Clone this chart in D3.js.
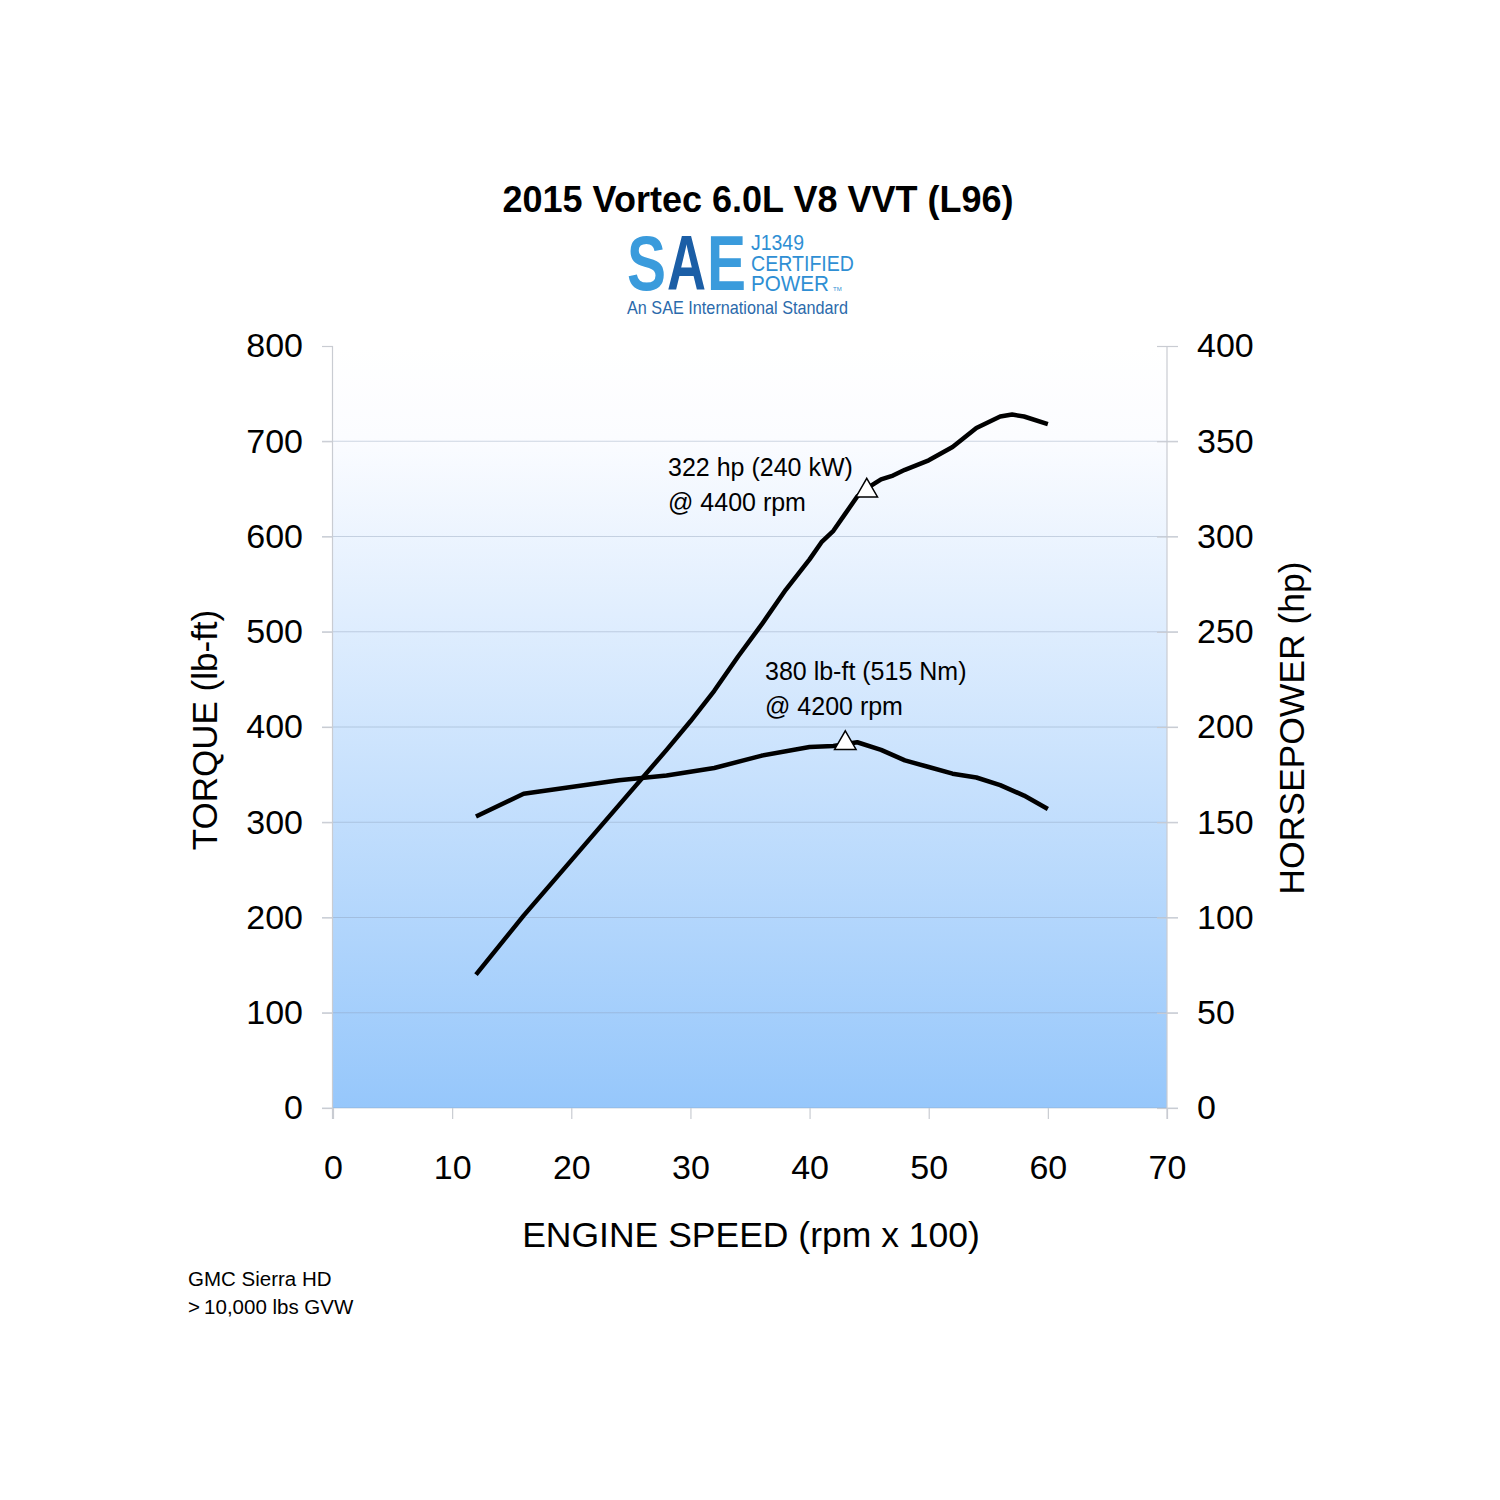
<!DOCTYPE html>
<html>
<head>
<meta charset="utf-8">
<script src="https://cdn.jsdelivr.net/npm/d3@7"></script>
<style>
  body { margin: 0; background: #fff; }
  svg { font-family: "Liberation Sans", Arial, Helvetica, sans-serif; }
</style>
</head>
<body>
<svg width="1500" height="1500"></svg>
<script>
// engine speed in rpm x 100
const torqueRpm = [12, 16, 20, 24, 28, 32, 36, 40, 42, 44, 46, 48, 50, 52, 54, 56, 58, 60];
const torque    = [306, 330, 337, 344, 349, 357, 370, 379, 380, 384, 376, 365, 358, 351, 347, 339, 328, 314];

const hpRpm = [12, 16, 20, 24, 28, 30, 32, 34, 36, 38, 40, 41, 42, 43, 44, 45, 46, 47, 48, 50, 52, 54, 56, 57, 58, 60];
const hp    = [70, 101, 130, 159, 188, 203, 219, 237, 254, 272, 288, 297, 303, 312, 321, 326, 330, 332, 335, 340, 347, 357, 363, 364, 363, 359];

const torquePeak = { rpm: 43, value: 383 };
const hpPeak = { rpm: 44.8, value: 324 };

const xTicks = [0, 10, 20, 30, 40, 50, 60, 70];
const torqueTicks = [0, 100, 200, 300, 400, 500, 600, 700, 800];
const hpTicks = [0, 50, 100, 150, 200, 250, 300, 350, 400];

const svg = d3.select("svg");

const x = d3.scaleLinear().domain([0, 70]).range([333, 1167]);
const yT = d3.scaleLinear().domain([0, 800]).range([1108, 346]);
const yH = d3.scaleLinear().domain([0, 400]).range([1108, 346]);

// background gradient
const defs = svg.append("defs");
const grad = defs.append("linearGradient")
  .attr("id", "bg")
  .attr("x1", 0).attr("y1", 0).attr("x2", 0).attr("y2", 1);
grad.append("stop").attr("offset", "0%").attr("stop-color", "#ffffff");
grad.append("stop").attr("offset", "12%").attr("stop-color", "#fbfcff");
grad.append("stop").attr("offset", "100%").attr("stop-color", "#96c7fb");

svg.append("rect")
  .attr("x", x(0)).attr("y", yT(800))
  .attr("width", x(70) - x(0))
  .attr("height", yT(0) - yT(800))
  .attr("fill", "url(#bg)");

// gridlines
svg.append("g")
  .selectAll("line")
  .data(torqueTicks.filter(d => d < 800))
  .join("line")
  .attr("x1", x(0) - 11).attr("x2", x(70) + 11)
  .attr("y1", d => yT(d)).attr("y2", d => yT(d))
  .attr("stroke", "#8a9bb3")
  .attr("stroke-opacity", 0.4)
  .attr("stroke-width", 1);

// axes
function styleAxis(g) {
  g.select(".domain").remove();
  g.selectAll(".tick line").attr("stroke", "#c9ccd2").attr("stroke-width", 1.2);
  g.selectAll(".tick text")
    .attr("fill", "#000")
    .attr("font-size", 34)
    .attr("font-family", "'Liberation Sans', Arial, sans-serif");
}

svg.append("g")
  .attr("transform", `translate(${x(0)},0)`)
  .call(d3.axisLeft(yT).tickValues(torqueTicks).tickSize(11).tickPadding(19))
  .call(styleAxis);

svg.append("g")
  .attr("transform", `translate(${x(70)},0)`)
  .call(d3.axisRight(yH).tickValues(hpTicks).tickSize(11).tickPadding(19))
  .call(styleAxis)
  .call(g => g.selectAll(".tick line").attr("x1", -10));

svg.append("g")
  .attr("transform", `translate(0,${yT(0)})`)
  .call(d3.axisBottom(x).tickValues(xTicks).tickSize(11).tickPadding(36))
  .call(styleAxis);

// axis lines
svg.append("line")
  .attr("x1", x(0) - 0.5).attr("x2", x(0) - 0.5)
  .attr("y1", yT(800)).attr("y2", yT(0) + 11)
  .attr("stroke", "#c9ccd2").attr("stroke-width", 1.2);
svg.append("line")
  .attr("x1", x(70)).attr("x2", x(70))
  .attr("y1", yT(800)).attr("y2", yT(0) + 11)
  .attr("stroke", "#c9ccd2").attr("stroke-width", 1.2);

// curves
const torqueLine = d3.line().x((d, i) => x(torqueRpm[i])).y(d => yT(d));
const hpLine = d3.line().x((d, i) => x(hpRpm[i])).y(d => yH(d));

svg.append("path")
  .datum(torque)
  .attr("d", torqueLine)
  .attr("fill", "none")
  .attr("stroke", "#000")
  .attr("stroke-width", 4.5)
  .attr("stroke-linejoin", "round");

svg.append("path")
  .datum(hp)
  .attr("d", hpLine)
  .attr("fill", "none")
  .attr("stroke", "#000")
  .attr("stroke-width", 4.5)
  .attr("stroke-linejoin", "round");

// peak markers
const tri = d3.symbol().type(d3.symbolTriangle).size(200);
svg.append("path")
  .attr("d", tri)
  .attr("transform", `translate(${x(torquePeak.rpm)},${yT(torquePeak.value)})`)
  .attr("fill", "#fff").attr("stroke", "#000").attr("stroke-width", 1.5);
svg.append("path")
  .attr("d", tri)
  .attr("transform", `translate(${x(hpPeak.rpm)},${yH(hpPeak.value)})`)
  .attr("fill", "#fff").attr("stroke", "#000").attr("stroke-width", 1.5);

// annotations
function note(px, py, lines) {
  const t = svg.append("text")
    .attr("x", px).attr("y", py)
    .attr("font-size", 25)
    .attr("fill", "#000");
  lines.forEach((s, i) => {
    t.append("tspan").attr("x", px).attr("dy", i === 0 ? 0 : 35).text(s);
  });
}
note(668, 476, ["322 hp (240 kW)", "@ 4400 rpm"]);
note(765, 680, ["380 lb-ft (515 Nm)", "@ 4200 rpm"]);

// axis titles
svg.append("text")
  .attr("transform", "translate(217,730) rotate(-90)")
  .attr("text-anchor", "middle")
  .attr("font-size", 35)
  .text("TORQUE (lb-ft)");

svg.append("text")
  .attr("transform", "translate(1304,728) rotate(-90)")
  .attr("text-anchor", "middle")
  .attr("font-size", 35.5)
  .text("HORSEPOWER (hp)");

svg.append("text")
  .attr("x", 751).attr("y", 1247)
  .attr("text-anchor", "middle")
  .attr("font-size", 35.5)
  .text("ENGINE SPEED (rpm x 100)");

// title
svg.append("text")
  .attr("x", 758).attr("y", 212)
  .attr("text-anchor", "middle")
  .attr("font-size", 36)
  .attr("font-weight", "bold")
  .text("2015 Vortec 6.0L V8 VVT (L96)");

// SAE logo (approximation)
const logo = svg.append("g");
[["S", 627, "#3a9bdc"], ["A", 667, "#1b5ea6"], ["E", 707, "#3a9bdc"]].forEach(([s, lx, c]) => {
  logo.append("text")
    .attr("x", lx).attr("y", 290)
    .attr("font-size", 78)
    .attr("font-weight", "bold")
    .attr("textLength", 39)
    .attr("lengthAdjust", "spacingAndGlyphs")
    .attr("fill", c)
    .text(s);
});

[["J1349", 250, 53], ["CERTIFIED", 271, 103], ["POWER", 291, 78]].forEach(([s, yy, w]) => {
  logo.append("text")
    .attr("x", 751).attr("y", yy)
    .attr("font-size", 22)
    .attr("textLength", w)
    .attr("lengthAdjust", "spacingAndGlyphs")
    .attr("fill", "#2f8fd4")
    .text(s);
});
logo.append("text")
  .attr("x", 833).attr("y", 291)
  .attr("font-size", 6)
  .attr("fill", "#2f8fd4")
  .text("TM");
logo.append("text")
  .attr("x", 627).attr("y", 314)
  .attr("font-size", 19)
  .attr("textLength", 221)
  .attr("lengthAdjust", "spacingAndGlyphs")
  .attr("fill", "#2b6aab")
  .text("An SAE International Standard");

// footnote
svg.append("text")
  .attr("x", 188).attr("y", 1286)
  .attr("font-size", 20.5)
  .text("GMC Sierra HD");
svg.append("text")
  .attr("x", 188).attr("y", 1314)
  .attr("font-size", 20.5)
  .text(">\u200910,000 lbs GVW");
</script>
</body>
</html>
